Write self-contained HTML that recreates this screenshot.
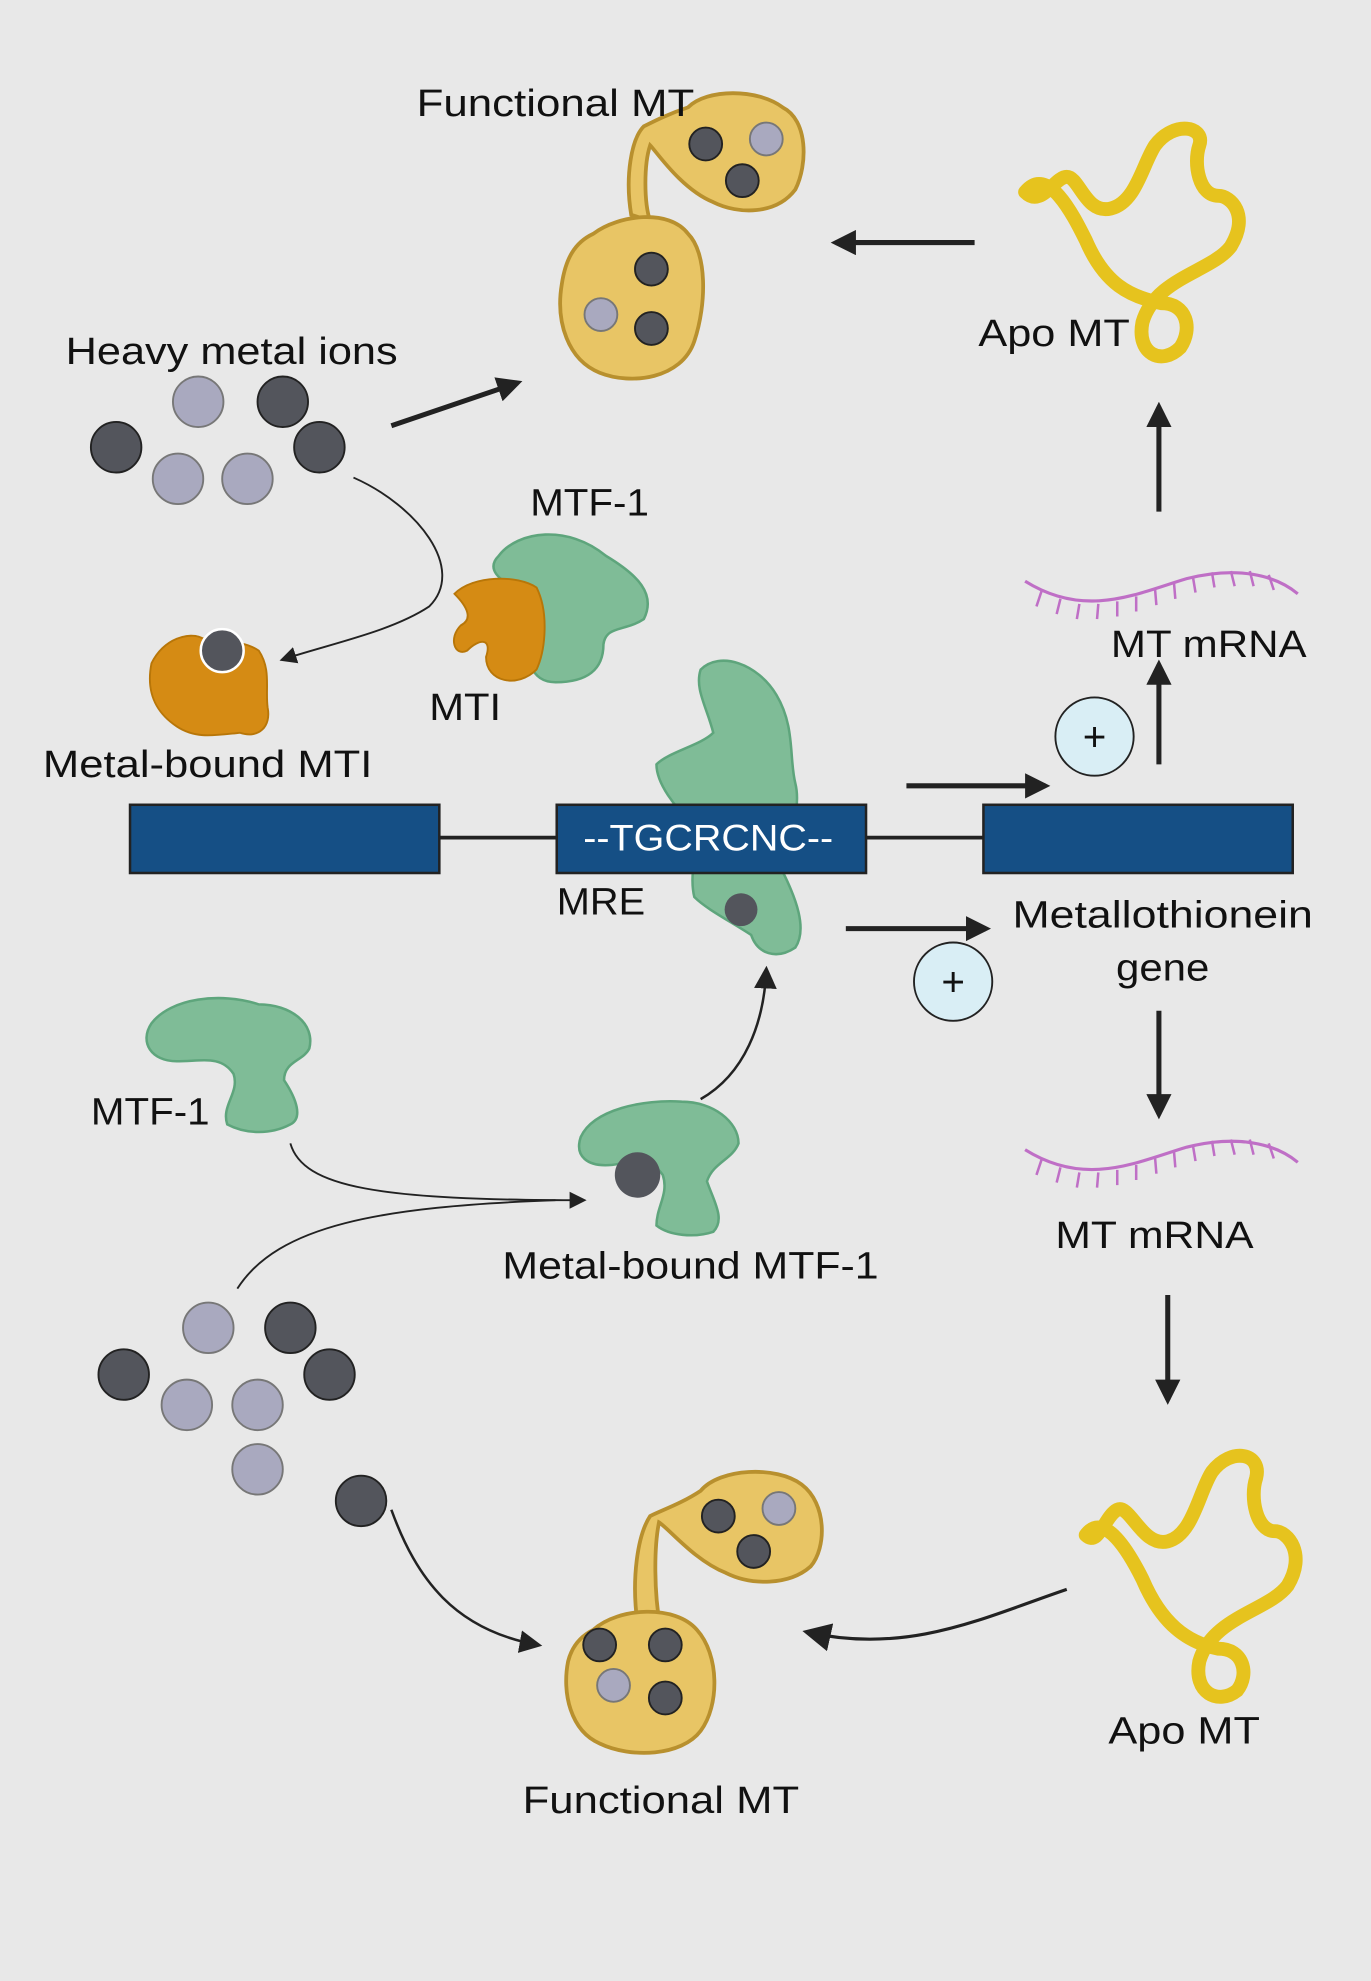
<!DOCTYPE html>
<html><head><meta charset="utf-8"><style>
html,body{margin:0;padding:0;background:#e8e8e8;}
svg{display:block;}
text{font-family:"Liberation Sans",sans-serif;fill:#111;}
</style></head><body>
<svg width="1371" height="1981" viewBox="0 0 1086 1568" preserveAspectRatio="none" xmlns="http://www.w3.org/2000/svg">
<defs>
<marker id="a" viewBox="0 0 10 10" refX="8" refY="5" markerWidth="5" markerHeight="5" orient="auto"><path d="M0,0L10,5L0,10z" fill="#222"/></marker>
<marker id="a2" viewBox="0 0 10 10" refX="8" refY="5" markerWidth="9" markerHeight="9" orient="auto"><path d="M0,0L10,5L0,10z" fill="#222"/></marker>
</defs>
<rect width="1086" height="1568" fill="#e8e8e8"/>

<!-- Top functional MT -->
<g stroke="#b8902e" stroke-width="3" fill="#e8c565">
<path d="M500,170 C495,140 500,110 510,100 C520,95 530,90 545,85 C560,70 600,70 620,85 C640,95 640,130 630,150 C615,170 585,170 565,160 C540,150 520,120 515,115 C510,130 510,160 515,175 Z"/>
<path d="M470,185 C490,170 530,165 545,185 C560,200 560,240 550,270 C540,300 500,305 475,295 C450,285 440,255 445,225 C448,205 455,192 470,185 Z"/>
</g>
<g stroke="#222" stroke-width="1.5">
<circle cx="559" cy="114" r="13" fill="#53555c"/><circle cx="588" cy="143" r="13" fill="#53555c"/>
<circle cx="516" cy="213" r="13" fill="#53555c"/><circle cx="516" cy="260" r="13" fill="#53555c"/>
<circle cx="607" cy="110" r="13" fill="#a9a9bf" stroke="#777"/><circle cx="476" cy="249" r="13" fill="#a9a9bf" stroke="#777"/>
</g>
<text x="330" y="92" font-size="30" textLength="220" lengthAdjust="spacingAndGlyphs">Functional MT</text>
<line x1="772" y1="192" x2="662" y2="192" stroke="#222" stroke-width="4" marker-end="url(#a)"/>

<!-- Apo MT top -->
<path d="M812,152 C830,130 850,170 860,190 C875,225 895,235 920,240 C940,240 945,260 935,275 C920,290 900,280 905,255 C915,220 960,215 975,195 C990,170 975,155 965,155 C950,155 945,130 950,115 C955,100 930,95 915,115 C905,130 900,160 880,165 C860,170 855,140 845,140 C835,140 825,165 812,152" fill="none" stroke="#e6c31e" stroke-width="11" stroke-linecap="round"/>
<text x="775" y="274" font-size="30" textLength="120" lengthAdjust="spacingAndGlyphs">Apo MT</text>

<!-- Heavy metal ions -->
<text x="52" y="288" font-size="30" textLength="263" lengthAdjust="spacingAndGlyphs">Heavy metal ions</text>
<g stroke="#222" stroke-width="1.5">
<circle cx="92" cy="354" r="20" fill="#53555c"/><circle cx="224" cy="318" r="20" fill="#53555c"/><circle cx="253" cy="354" r="20" fill="#53555c"/>
<circle cx="157" cy="318" r="20" fill="#a9a9bf" stroke="#777"/><circle cx="141" cy="379" r="20" fill="#a9a9bf" stroke="#777"/><circle cx="196" cy="379" r="20" fill="#a9a9bf" stroke="#777"/>
</g>
<line x1="310" y1="337" x2="410" y2="303" stroke="#222" stroke-width="4" marker-end="url(#a)"/>
<path d="M280,378 C330,400 370,450 340,480 C310,500 260,510 224,522" fill="none" stroke="#222" stroke-width="1.5" marker-end="url(#a2)"/>

<!-- MTF-1 + MTI -->
<path d="M395,440 C410,420 450,415 480,440 C505,455 520,470 510,490 C495,500 480,495 478,510 C478,530 465,540 440,540 C420,540 415,520 425,505 C435,490 430,470 410,465 C395,460 385,450 395,440Z" fill="#7fbc97" stroke="#5ea57c" stroke-width="2"/>
<path d="M360,470 C375,455 410,455 425,465 C435,485 432,515 425,530 C410,545 385,540 385,520 C390,505 380,505 370,515 C360,520 355,505 365,495 C375,490 370,480 360,470Z" fill="#d58b14" stroke="#b87608" stroke-width="1.5"/>
<text x="420" y="408" font-size="30" textLength="94" lengthAdjust="spacingAndGlyphs">MTF-1</text>
<text x="340" y="570" font-size="30" textLength="57" lengthAdjust="spacingAndGlyphs">MTI</text>

<!-- Metal-bound MTI -->
<path d="M120,525 C130,505 150,500 160,505 C175,510 190,505 205,515 C215,530 210,545 212,560 C215,575 205,585 190,580 C170,582 155,585 140,575 C125,565 115,550 120,525Z" fill="#d58b14" stroke="#b87608" stroke-width="1.5"/>
<circle cx="176" cy="515" r="17" fill="#53555c" stroke="#fff" stroke-width="2"/>
<text x="34" y="615" font-size="30" textLength="261" lengthAdjust="spacingAndGlyphs">Metal-bound MTI</text>

<!-- DNA -->
<line x1="103" y1="663" x2="1023" y2="663" stroke="#222" stroke-width="3"/>
<path d="M555,530 C570,515 600,525 615,550 C630,575 625,600 630,620 C635,640 625,660 620,690 C630,710 640,735 630,750 C615,760 600,755 595,740 C580,730 560,720 550,710 C545,690 555,670 548,650 C535,640 520,620 520,605 C530,595 555,590 565,580 C560,560 550,545 555,530Z" fill="#7fbc97" stroke="#5ea57c" stroke-width="2"/>
<circle cx="587" cy="720" r="13" fill="#53555c"/>
<g stroke="#222" stroke-width="2" fill="#154f85">
<rect x="103" y="637" width="245" height="54"/>
<rect x="441" y="637" width="245" height="54"/>
<rect x="779" y="637" width="245" height="54"/>
</g>
<text x="462" y="673" font-size="29" style="fill:#fff" textLength="198" lengthAdjust="spacingAndGlyphs">--TGCRCNC--</text>
<text x="441" y="724" font-size="30" textLength="70" lengthAdjust="spacingAndGlyphs">MRE</text>

<line x1="718" y1="622" x2="828" y2="622" stroke="#222" stroke-width="4" marker-end="url(#a)"/>
<line x1="670" y1="735" x2="781" y2="735" stroke="#222" stroke-width="4" marker-end="url(#a)"/>
<circle cx="867" cy="583" r="31" fill="#d9eef5" stroke="#222" stroke-width="1.5"/>
<text x="867" y="594" font-size="32" text-anchor="middle">+</text>
<circle cx="755" cy="777" r="31" fill="#d9eef5" stroke="#222" stroke-width="1.5"/>
<text x="755" y="788" font-size="32" text-anchor="middle">+</text>
<text x="802" y="734" font-size="30" textLength="238" lengthAdjust="spacingAndGlyphs">Metallothionein</text>
<text x="884" y="776" font-size="30" textLength="74" lengthAdjust="spacingAndGlyphs">gene</text>

<line x1="918" y1="605" x2="918" y2="526" stroke="#222" stroke-width="4" marker-end="url(#a)"/>
<text x="880" y="520" font-size="30" textLength="155" lengthAdjust="spacingAndGlyphs">MT mRNA</text>
<g stroke="#bf6fc6" stroke-width="2.5" fill="none">
<path d="M812,460 C860,490 900,470 940,458 C980,448 1010,455 1028,470"/>
<path d="M812,910 C860,940 900,920 940,908 C980,898 1010,905 1028,920"/>
</g>
<g stroke="#bf6fc6" stroke-width="2">
<path d="M825,468l-4,12M840,474l-3,12M855,478l-2,12M870,478l-1,12M885,476l0,12M900,472l0,12M915,467l1,12M930,462l1,12M945,457l2,12M960,453l2,12M975,452l3,12M990,452l3,12M1005,455l4,12"/>
<path transform="translate(0,450)" d="M825,468l-4,12M840,474l-3,12M855,478l-2,12M870,478l-1,12M885,476l0,12M900,472l0,12M915,467l1,12M930,462l1,12M945,457l2,12M960,453l2,12M975,452l3,12M990,452l3,12M1005,455l4,12"/>
</g>
<line x1="918" y1="405" x2="918" y2="322" stroke="#222" stroke-width="4" marker-end="url(#a)"/>
<line x1="918" y1="800" x2="918" y2="882" stroke="#222" stroke-width="4" marker-end="url(#a)"/>
<text x="836" y="988" font-size="30" textLength="157" lengthAdjust="spacingAndGlyphs">MT mRNA</text>
<line x1="925" y1="1025" x2="925" y2="1108" stroke="#222" stroke-width="4" marker-end="url(#a)"/>

<!-- Apo MT bottom -->
<path d="M860,1215 C875,1195 895,1230 905,1250 C920,1285 940,1300 965,1305 C985,1305 990,1325 980,1338 C965,1350 945,1340 950,1315 C960,1280 1005,1275 1020,1255 C1035,1230 1020,1212 1010,1212 C995,1212 990,1185 995,1170 C1000,1150 975,1145 960,1165 C950,1180 945,1215 925,1220 C905,1225 895,1190 885,1195 C875,1200 870,1225 860,1215" fill="none" stroke="#e6c31e" stroke-width="11" stroke-linecap="round"/>
<text x="878" y="1380" font-size="30" textLength="120" lengthAdjust="spacingAndGlyphs">Apo MT</text>
<path d="M845,1258 C780,1280 720,1310 640,1292" fill="none" stroke="#222" stroke-width="2.5" marker-end="url(#a2)"/>

<!-- Bottom functional MT -->
<g stroke="#b8902e" stroke-width="3" fill="#e8c565">
<path d="M505,1285 C500,1250 505,1215 515,1200 C525,1195 540,1190 555,1180 C570,1162 615,1160 635,1175 C655,1190 655,1225 642,1240 C625,1255 595,1255 575,1245 C550,1235 530,1210 522,1205 C518,1225 518,1260 523,1288 Z"/>
<path d="M470,1290 C490,1272 535,1270 552,1290 C570,1310 570,1350 555,1370 C540,1390 500,1392 475,1380 C452,1370 445,1340 450,1315 C453,1303 460,1295 470,1290 Z"/>
</g>
<g stroke="#222" stroke-width="1.5">
<circle cx="569" cy="1200" r="13" fill="#53555c"/><circle cx="597" cy="1228" r="13" fill="#53555c"/>
<circle cx="475" cy="1302" r="13" fill="#53555c"/><circle cx="527" cy="1302" r="13" fill="#53555c"/><circle cx="527" cy="1344" r="13" fill="#53555c"/>
<circle cx="617" cy="1194" r="13" fill="#a9a9bf" stroke="#777"/><circle cx="486" cy="1334" r="13" fill="#a9a9bf" stroke="#777"/>
</g>
<text x="414" y="1435" font-size="30" textLength="219" lengthAdjust="spacingAndGlyphs">Functional MT</text>

<!-- bottom ions -->
<g stroke="#222" stroke-width="1.5">
<circle cx="230" cy="1051" r="20" fill="#53555c"/><circle cx="98" cy="1088" r="20" fill="#53555c"/><circle cx="261" cy="1088" r="20" fill="#53555c"/><circle cx="286" cy="1188" r="20" fill="#53555c"/>
<circle cx="165" cy="1051" r="20" fill="#a9a9bf" stroke="#777"/><circle cx="148" cy="1112" r="20" fill="#a9a9bf" stroke="#777"/><circle cx="204" cy="1112" r="20" fill="#a9a9bf" stroke="#777"/><circle cx="204" cy="1163" r="20" fill="#a9a9bf" stroke="#777"/>
</g>
<path d="M310,1195 C330,1250 360,1290 426,1302" fill="none" stroke="#222" stroke-width="2" marker-end="url(#a2)"/>

<!-- MTF-1 free -->
<path d="M120,810 C135,790 175,785 205,795 C230,795 250,810 245,830 C240,840 225,840 225,855 C235,870 240,885 230,890 C215,898 195,898 180,890 C175,875 190,865 185,850 C175,835 160,840 140,840 C120,840 110,825 120,810Z" fill="#7fbc97" stroke="#5ea57c" stroke-width="2"/>
<text x="72" y="890" font-size="30" textLength="94" lengthAdjust="spacingAndGlyphs">MTF-1</text>

<!-- Metal-bound MTF-1 -->
<path d="M460,900 C470,878 510,870 540,872 C565,872 585,888 585,905 C580,918 565,920 560,935 C565,950 575,965 565,975 C550,980 530,978 520,970 C520,955 530,945 525,930 C515,915 500,920 485,922 C465,924 455,915 460,900Z" fill="#7fbc97" stroke="#5ea57c" stroke-width="2"/>
<circle cx="505" cy="930" r="18" fill="#53555c"/>
<text x="398" y="1012" font-size="30" textLength="298" lengthAdjust="spacingAndGlyphs">Metal-bound MTF-1</text>
<path d="M230,905 C240,940 300,950 462,950" fill="none" stroke="#222" stroke-width="1.5" marker-end="url(#a2)"/>
<path d="M188,1020 C220,970 300,955 440,950" fill="none" stroke="#222" stroke-width="1.5"/>
<path d="M555,870 C590,850 605,810 607,768" fill="none" stroke="#222" stroke-width="2" marker-end="url(#a2)"/>
</svg>
</body></html>
